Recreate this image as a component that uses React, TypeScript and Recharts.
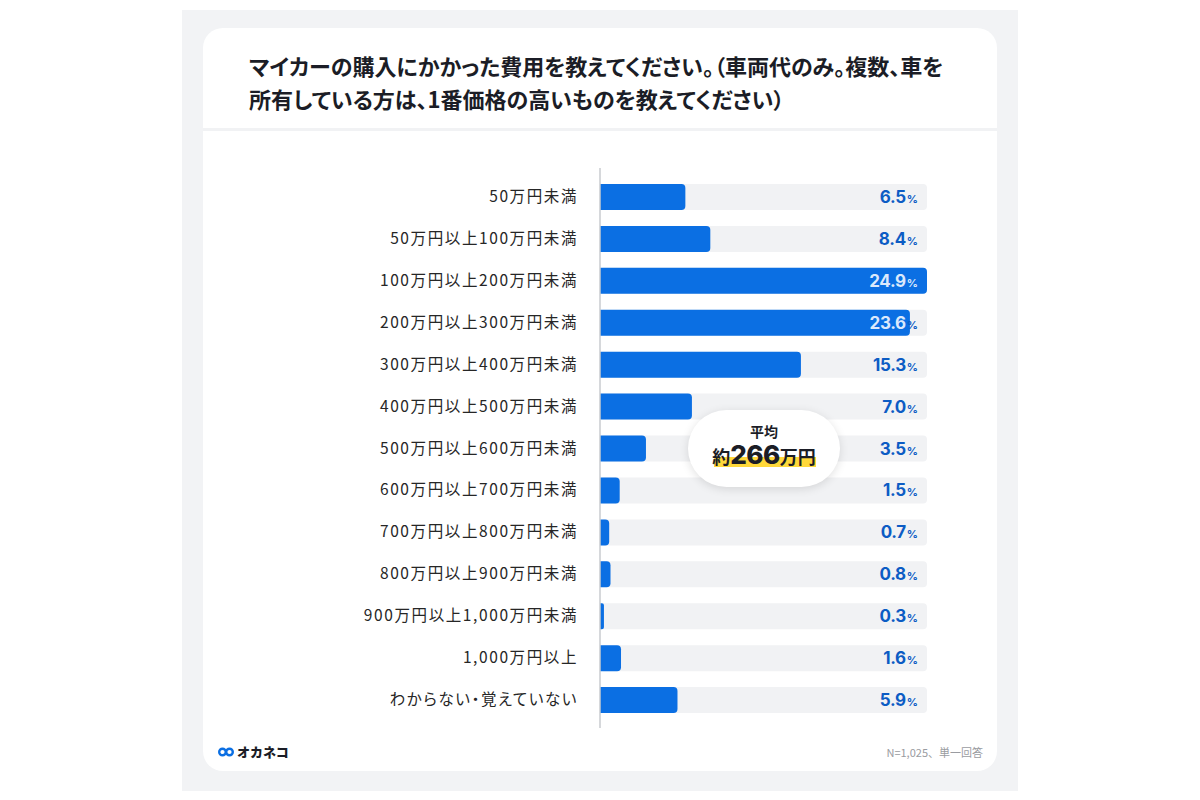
import React from 'react';
import { BarChart, Bar, XAxis, YAxis, LabelList } from 'recharts';

// 購入費用の区分
const CATEGORIES = [
  '50万円未満',
  '50万円以上100万円未満',
  '100万円以上200万円未満',
  '200万円以上300万円未満',
  '300万円以上400万円未満',
  '400万円以上500万円未満',
  '500万円以上600万円未満',
  '600万円以上700万円未満',
  '700万円以上800万円未満',
  '800万円以上900万円未満',
  '900万円以上1,000万円未満',
  '1,000万円以上',
  'わからない・覚えていない',
];

// 回答割合 (%)
const SHARES = [6.5, 8.4, 24.9, 23.6, 15.3, 7.0, 3.5, 1.5, 0.7, 0.8, 0.3, 1.6, 5.9];

const TITLE_LINES = [
  'マイカーの購入にかかった費用を教えてください。（車両代のみ。複数、車を',
  '所有している方は、1番価格の高いものを教えてください）',
];

const AVERAGE_LABEL = '平均';
const AVERAGE_VALUE = '266';
const NOTE = 'N=1,025、単一回答';

const data = CATEGORIES.map((name, i) => ({ name, value: SHARES[i] }));
const maxShare = Math.max(...SHARES);

const JP_FONT = '"Noto Sans CJK JP", "Noto Sans", sans-serif';
const NUM_FONT = 'Inter, "Noto Sans", sans-serif';
const BLUE = '#0b6fe3';

// layout of the plot area
const PLOT_LEFT = 600;
const PLOT_RIGHT = 927;
const PLOT_TOP = 168;
const PLOT_BOTTOM = 728;
const Y_AXIS_WIDTH = 260;

const CategoryTick = (props: any) => {
  const { x, y, payload } = props;
  return (
    <text
      x={x}
      y={y}
      dy={5}
      textAnchor="end"
      fontSize={15.5}
      fill="#262626"
      fontFamily={JP_FONT}
      letterSpacing={1.6}
      style={{ fontFeatureSettings: '"palt"' }}
    >
      {payload.value}
    </text>
  );
};

const ValueLabel = (props: any) => {
  const { x, y, width, height, value } = props;
  const plotWidth = PLOT_RIGHT - PLOT_LEFT;
  const labelRight = x + plotWidth - 9;
  const barEnd = x + width;
  const light = '#dbe9fc';
  const dark = '#0c5cc4';
  const numColor = barEnd > labelRight - 30 ? light : dark;
  const pctColor = barEnd > labelRight - 4 ? light : dark;
  return (
    <text
      x={labelRight}
      y={y + height / 2}
      dy={6}
      textAnchor="end"
      fontFamily={NUM_FONT}
      fontWeight={700}
    >
      <tspan fontSize={17} letterSpacing={-0.3} fill={numColor}>
        {Number(value).toFixed(1)}
      </tspan>
      <tspan fontSize={11} dx={1} fill={pctColor}>%</tspan>
    </text>
  );
};

export default function App() {
  return (
    <div
      style={{
        position: 'absolute',
        left: 0,
        top: 0,
        width: 1200,
        height: 800,
        background: '#ffffff',
        overflow: 'hidden',
      }}
    >
      {/* outer gray panel */}
      <div
        style={{
          position: 'absolute',
          left: 182,
          top: 10,
          width: 836,
          height: 781,
          background: '#f2f3f5',
        }}
      />
      {/* white card */}
      <div
        style={{
          position: 'absolute',
          left: 203,
          top: 28,
          width: 794,
          height: 743,
          background: '#ffffff',
          borderRadius: 20,
        }}
      />
      {/* header divider */}
      <div
        style={{
          position: 'absolute',
          left: 203,
          top: 128,
          width: 794,
          height: 3,
          background: '#f1f2f4',
        }}
      />
      {/* title */}
      <div
        style={{
          position: 'absolute',
          left: 249,
          top: 49,
          fontFamily: JP_FONT,
          fontWeight: 700,
          fontSize: 22,
          lineHeight: '33px',
          color: '#1b1d26',
          fontFeatureSettings: '"palt"',
          letterSpacing: 0,
          whiteSpace: 'nowrap',
        }}
      >
        {TITLE_LINES.map((l) => (
          <div key={l}>{l}</div>
        ))}
      </div>

      <div style={{ position: 'absolute', left: 0, top: 0 }}>
        <BarChart
          width={1200}
          height={800}
          data={data}
          layout="vertical"
          margin={{
            top: PLOT_TOP,
            bottom: 800 - PLOT_BOTTOM,
            left: PLOT_LEFT - Y_AXIS_WIDTH,
            right: 1200 - PLOT_RIGHT,
          }}
          barCategoryGap={8}
        >
          <XAxis type="number" domain={[0, maxShare]} hide />
          <YAxis
            type="category"
            dataKey="name"
            width={Y_AXIS_WIDTH}
            axisLine={{ stroke: '#c9cbcf', strokeWidth: 1.5 }}
            tickLine={false}
            tickSize={0}
            tickMargin={22}
            tick={<CategoryTick />}
            interval={0}
            padding={{ top: 8, bottom: 7 }}
          />
          <Bar
            dataKey="value"
            fill={BLUE}
            radius={[0, 4, 4, 0]}
            background={{ fill: '#f1f2f4', radius: 4 } as any}
            isAnimationActive={false}
          >
            <LabelList dataKey="value" content={<ValueLabel />} />
          </Bar>
        </BarChart>
      </div>

      {/* average callout */}
      <div
        style={{
          position: 'absolute',
          left: 688,
          top: 410,
          width: 152,
          height: 77,
          borderRadius: 39,
          background: '#ffffff',
          boxShadow: '0 2px 10px rgba(0,0,0,0.12)',
          textAlign: 'center',
          fontFamily: JP_FONT,
          color: '#1b1d26',
        }}
      >
        <div style={{ position: 'absolute', top: 11, width: '100%', fontSize: 14, fontWeight: 700 }}>
          {AVERAGE_LABEL}
        </div>
        <div
          style={{
            position: 'absolute',
            left: 26,
            top: 47,
            width: 102,
            height: 10,
            background: '#ffd83a',
          }}
        />
        <div
          style={{
            position: 'absolute',
            top: 29,
            width: '100%',
            fontWeight: 700,
            whiteSpace: 'nowrap',
          }}
        >
          <span style={{ fontSize: 18 }}>約</span>
          <span style={{ fontSize: 26, fontFamily: NUM_FONT, fontWeight: 800, letterSpacing: -0.5 }}>
            {AVERAGE_VALUE}
          </span>
          <span style={{ fontSize: 18 }}>万円</span>
        </div>
      </div>

      {/* logo */}
      <div
        style={{
          position: 'absolute',
          left: 218,
          top: 742,
          display: 'flex',
          alignItems: 'center',
          fontFamily: JP_FONT,
          fontWeight: 900,
          fontSize: 13,
          color: '#1b1d26',
        }}
      >
        <svg width={16} height={12} viewBox="0 0 16 12">
          <circle cx={4.5} cy={6} r={3.3} fill="none" stroke={BLUE} strokeWidth={2.4} />
          <circle cx={11.5} cy={6} r={3.3} fill="none" stroke={BLUE} strokeWidth={2.4} />
        </svg>
        <span style={{ marginLeft: 3 }}>オカネコ</span>
      </div>

      {/* note */}
      <div
        style={{
          position: 'absolute',
          right: 1200 - 983,
          top: 744,
          fontFamily: JP_FONT,
          fontSize: 11,
          color: '#9a9ca1',
        }}
      >
        {NOTE}
      </div>
    </div>
  );
}
